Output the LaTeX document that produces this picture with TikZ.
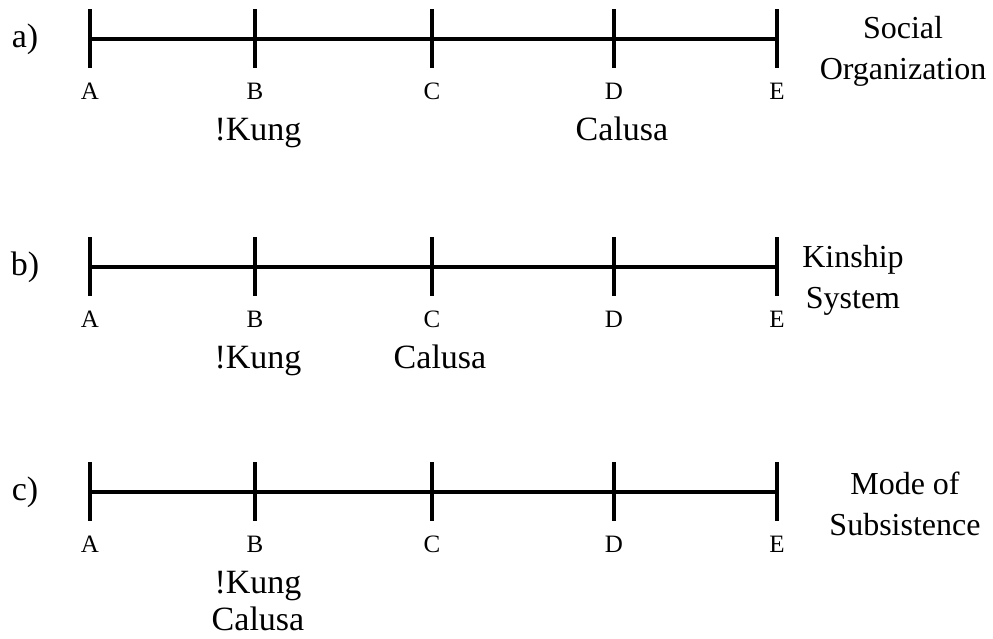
\documentclass[tikz,border=0pt]{standalone}
\usepackage{fontspec}
\setmainfont{Liberation Serif}
\begin{document}
\begin{tikzpicture}[x=1pt,y=-1pt,
  axisline/.style={line width=4.3pt},
  tickmark/.style={line width=4.5pt},
  pointlabel/.style={anchor=base,inner sep=0pt,font=\fontsize{25}{29}\selectfont},
  society/.style={anchor=base,inner sep=0pt,font=\fontsize{34}{39}\selectfont},
  rowtag/.style={inner sep=0pt,font=\fontsize{34}{39}\selectfont},
  dimension/.style={align=center,inner sep=0pt,font=\fontsize{32}{41}\selectfont}]
\useasboundingbox (0,0) rectangle (993,638);

% three scales A--E, each with its tick marks and point letters
\foreach \row/\y in {a/39,b/267,c/492}{
  \foreach \p/\x in {A/90,B/255,C/432,D/614,E/777}{
    \coordinate (\row\p) at (\x,\y);
    \coordinate (\row\p top) at (\x,\y-30);
    \coordinate (\row\p bot) at (\x,\y+29);
    \draw[tickmark] (\row\p top) -- (\row\p bot);
    \node[pointlabel] (\row\p lbl) at (\x,\y+60) {\p};
  }
  \draw[axisline] (\row A) -- (\row E);
}

% row tags
\node[rowtag] (taga) at (25,39) {a)};
\node[rowtag] (tagb) at (25,267) {b)};
\node[rowtag] (tagc) at (25,492) {c)};

% dimension names
\node[dimension] (dima) at (903,51) {Social\\Organization};
\node[dimension] (dimb) at (853,280) {Kinship\\System};
\node[dimension] (dimc) at (905,504) {Mode of\\Subsistence};

% placement of the two societies
\node[society] (kunga) at (258,140) {!Kung};
\node[society] (calusaa) at (622,140) {Calusa};
\node[society] (kungb) at (258,368) {!Kung};
\node[society] (calusab) at (440,368) {Calusa};
\node[society] (kungc) at (258,593) {!Kung};
\node[society] (calusac) at (258,630) {Calusa};
\end{tikzpicture}
\end{document}
